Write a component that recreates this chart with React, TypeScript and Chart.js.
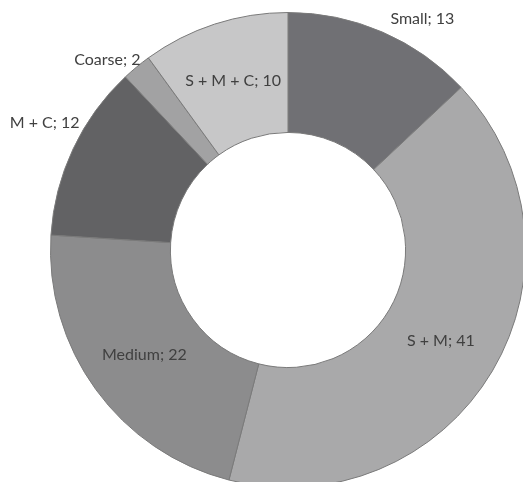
import React, { useEffect, useRef } from "react";
import { Chart, registerables } from "chart.js";

Chart.register(...registerables);

const categories = ["Small", "S + M", "Medium", "M + C", "Coarse", "S + M + C"];
const values = [13, 41, 22, 12, 2, 10];
const colors = ["#707074", "#a9a9aa", "#8c8c8d", "#626264", "#a2a2a3", "#c7c7c8"];
// label placement: radial factor (of outer radius; <1 means inside ring) and angle offset (deg)
const labelRadius = [1.125, 0.75, 0.75, 1.155, 1.105, 0.75];
const labelAngleOffset = [6.8, 0, 0, 2.3, -3.9, 0];

const labelPlugin = {
  id: "sliceLabels",
  afterDatasetsDraw(chart: any) {
    const ctx = chart.ctx;
    const meta = chart.getDatasetMeta(0);
    ctx.save();
    ctx.font = "16px Lato";
    ctx.fillStyle = "#404040";
    ctx.textAlign = "center";
    ctx.textBaseline = "middle";
    meta.data.forEach((arc: any, i: number) => {
      const p = arc.getProps(["x", "y", "startAngle", "endAngle", "innerRadius", "outerRadius"], true);
      const mid = (p.startAngle + p.endAngle) / 2 + (labelAngleOffset[i] * Math.PI) / 180;
      const f = labelRadius[i];
      const r = f < 1 ? (p.innerRadius + p.outerRadius) / 2 : p.outerRadius * f;
      const x = p.x + Math.cos(mid) * r;
      const y = p.y + Math.sin(mid) * r;
      ctx.fillText(`${categories[i]}; ${values[i]}`, x, y);
    });
    ctx.restore();
  },
};

export default function App() {
  const ref = useRef<HTMLCanvasElement | null>(null);
  useEffect(() => {
    if (!ref.current) return;
    const chart = new Chart(ref.current, {
      type: "doughnut",
      data: {
        labels: categories,
        datasets: [
          {
            data: values,
            backgroundColor: colors,
            borderColor: "#7a7a7a",
            borderWidth: 1,
          },
        ],
      },
      options: {
        responsive: false,
        animation: false,
        cutout: "49.5%",
        layout: { padding: { left: 50, top: 12, right: 50, bottom: 12 } },
        plugins: { legend: { display: false }, tooltip: { enabled: false } },
      },
      plugins: [labelPlugin],
    });
    return () => chart.destroy();
  }, []);
  return (
    <div style={{ position: "fixed", left: 0, top: 0, width: 523, height: 482, overflow: "hidden", background: "#fff" }}>
      <canvas ref={ref} width={576} height={500} style={{ display: "block" }} />
    </div>
  );
}
